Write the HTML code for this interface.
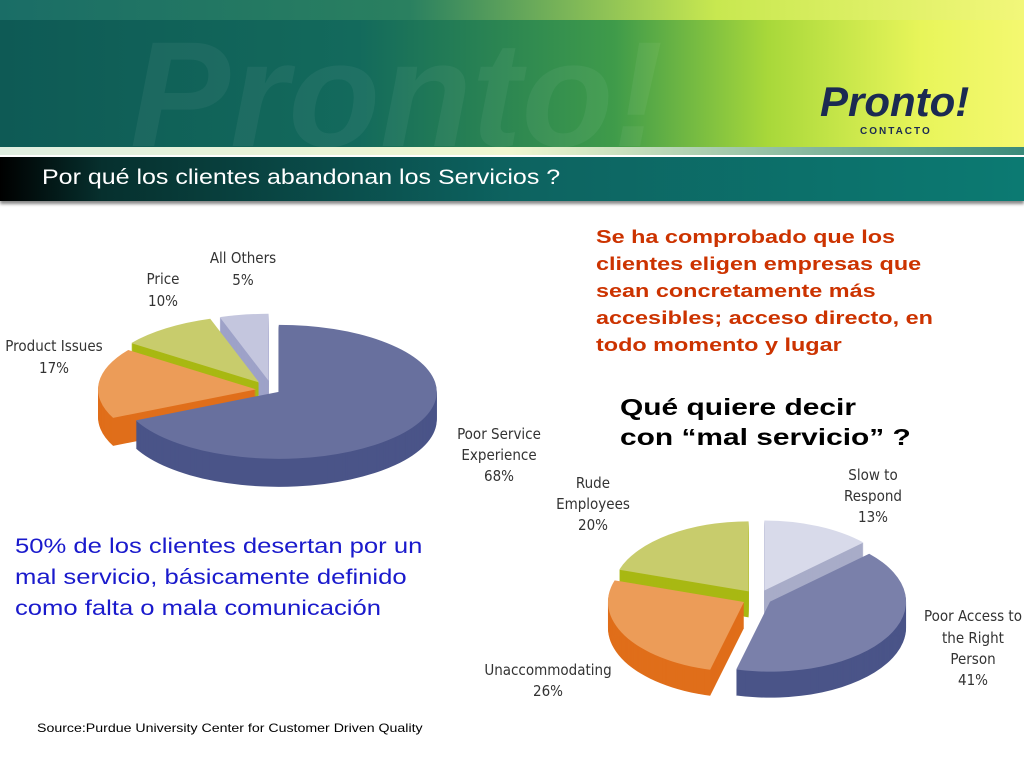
<!DOCTYPE html>
<html><head><meta charset="utf-8"><style>
body{margin:0;width:1024px;height:768px;overflow:hidden;background:#fff;font-family:"Liberation Sans",sans-serif;position:relative}
.a{position:absolute;white-space:nowrap}
</style></head><body>
<div class="a" style="left:0;top:0;width:1024px;height:147px;background:linear-gradient(90deg,#0e5a55 0%,#136a5c 35%,#3f9b4a 60%,#a8d83a 75%,#e8f55a 90%,#f4f870 100%)"></div>
<div class="a" style="left:0;top:0;width:1024px;height:20px;background:linear-gradient(90deg,#1a6d66 0%,#2a8060 40%,#c8e850 70%,#f2f77a 100%)"></div>
<div class="a" style="left:130px;top:8px;font-size:150px;font-style:italic;font-weight:bold;color:rgba(255,255,255,0.05)">Pronto!</div>
<div class="a" style="left:820px;top:78px;font-size:42px;font-style:italic;font-weight:bold;color:#1b2a52">Pronto!</div>
<div class="a" style="left:860px;top:126px;font-size:10px;font-weight:bold;letter-spacing:2px;color:#1b2a52">CONTACTO</div>
<div class="a" style="left:0;top:147px;width:1024px;height:8px;background:linear-gradient(90deg,#dfeee0,#f0f7d0 50%,#3a8a7a)"></div>
<div class="a" style="left:0;top:157px;width:1024px;height:44px;background:linear-gradient(90deg,#000 0%,#06302e 10%,#0d6360 50%,#0c7a72 100%);box-shadow:0 3px 3px #888"></div>
<div class="a" style="left:42px;top:166px;font-size:21px;color:#fff;transform:scaleX(1.19);transform-origin:0 0">Por qué los clientes abandonan los Servicios ?</div>

<svg class="a" style="left:0;top:0" width="1024" height="768">
<g id="p1"></g><g id="p2"></g>
<g font-family="DejaVu Sans Condensed, Liberation Sans, sans-serif" font-size="15" fill="#333" text-anchor="middle">
<text x="243" y="263">All Others</text><text x="243" y="285">5%</text>
<text x="163" y="284">Price</text><text x="163" y="306">10%</text>
<text x="54" y="351">Product Issues</text><text x="54" y="373">17%</text>
<text x="499" y="439">Poor Service</text><text x="499" y="460">Experience</text><text x="499" y="481">68%</text>
<text x="593" y="488">Rude</text><text x="593" y="509">Employees</text><text x="593" y="530">20%</text>
<text x="873" y="480">Slow to</text><text x="873" y="501">Respond</text><text x="873" y="522">13%</text>
<text x="973" y="621">Poor Access to</text><text x="973" y="643">the Right</text><text x="973" y="664">Person</text><text x="973" y="685">41%</text>
<text x="548" y="675">Unaccommodating</text><text x="548" y="696">26%</text>
</g>
</svg>

<div class="a" style="left:596px;top:224px;font-size:18px;line-height:27px;font-weight:bold;color:#cc3300;transform:scaleX(1.3);transform-origin:0 0">Se ha comprobado que los<br>clientes eligen empresas que<br>sean concretamente más<br>accesibles; acceso directo, en<br>todo momento y lugar</div>
<div class="a" style="left:620px;top:392px;font-size:23px;line-height:30px;font-weight:bold;color:#000;transform:scaleX(1.3);transform-origin:0 0">Qué quiere decir<br>con “mal servicio” ?</div>
<div class="a" style="left:15px;top:531px;font-size:21px;line-height:31px;color:#1a1acc;transform:scaleX(1.22);transform-origin:0 0">50% de los clientes desertan por un<br>mal servicio, básicamente definido<br>como falta o mala comunicación</div>
<div class="a" style="left:37px;top:721px;font-size:12px;color:#000;transform:scaleX(1.18);transform-origin:0 0">Source:Purdue University Center for Customer Driven Quality</div>

<script>
const pie1Names=["Poor Service Experience","Product Issues","Price","All Others"];
const pie1Values=[68,17,10,5];
const pie2Names=["Slow to Respond","Poor Access","Unaccommodating","Rude Employees"];
const pie2Values=[13,41,26,20];
const NS="http://www.w3.org/2000/svg";
function drawPie(g,names,vals,cfg){
  const tot=vals.reduce((a,b)=>a+b,0);let a=0;const sl=[];
  vals.forEach((v,i)=>{const a1=a,a2=a+v/tot*2*Math.PI;a=a2;sl.push({i,a1,a2,m:(a1+a2)/2});});
  sl.sort((p,q)=>Math.cos(q.m)-Math.cos(p.m));
  sl.forEach(s=>{
    const ex=cfg.ex[s.i];const cx=cfg.cx+ex*Math.sin(s.m),cy=cfg.cy-ex*Math.cos(s.m)*cfg.ry/cfg.rx;
    const pt=t=>[cx+cfg.rx*Math.sin(t),cy-cfg.ry*Math.cos(t)];
    const p1=pt(s.a1),p2=pt(s.a2),lg=(s.a2-s.a1)>Math.PI?1:0;
    const d=`M${cx},${cy}L${p1[0]},${p1[1]}A${cfg.rx},${cfg.ry} 0 ${lg} 1 ${p2[0]},${p2[1]}Z`;
    for(let k=cfg.depth;k>0;k--){const e=document.createElementNS(NS,'path');
      e.setAttribute('d',d);e.setAttribute('transform',`translate(0,${k})`);e.setAttribute('fill',cfg.dark[s.i]);
      
      
      g.appendChild(e);}
    const e=document.createElementNS(NS,'path');e.setAttribute('d',d);e.setAttribute('fill',cfg.light[s.i]);
    
    
    g.appendChild(e);
  });
}
drawPie(document.getElementById('p1'),pie1Names,pie1Values,{cx:272,cy:390,rx:158,ry:67,depth:28,ex:[8,16,22,22],
  light:["#68709e","#ec9c58","#c8cc6c","#c4c6de"],dark:["#4a5488","#e06e1a","#a8b812","#9ea2c8"]});
drawPie(document.getElementById('p2'),pie2Names,pie2Values,{cx:758,cy:598,rx:136,ry:70,depth:26,ex:[16,14,16,16],
  light:["#d8daea","#7a80aa","#ec9c58","#c8cc6c"],dark:["#a8acc8","#4a5488","#e06e1a","#a8b812"]});
</script>
</body></html>
